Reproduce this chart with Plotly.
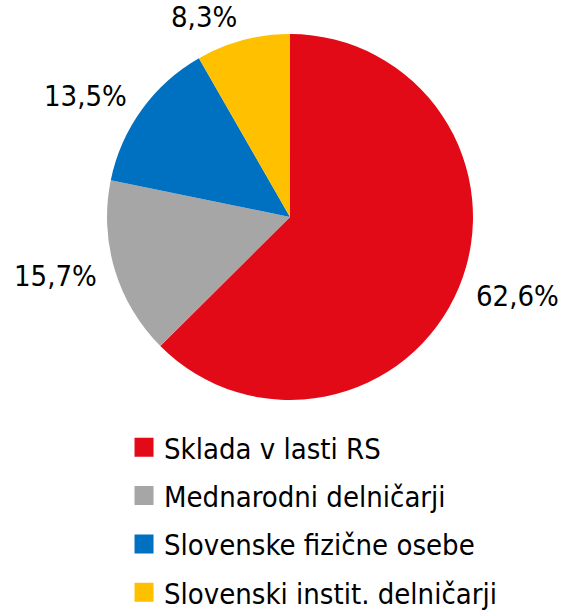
import math
import plotly.graph_objects as go

categories = ["Sklada v lasti RS", "Mednarodni delničarji", "Slovenske fizične osebe", "Slovenski instit. delničarji"]
values = [62.6, 15.7, 13.5, 8.3]
colors = ["#E30A17", "#A6A6A6", "#0070C0", "#FFC000"]

FONT = "DejaVu Sans Condensed, Liberation Sans Narrow, Open Sans, sans-serif"
W, H = 564, 612
dom_x = [0.1897, 0.8387]
dom_y = [0.3464, 0.9444]

fig = go.Figure()
fig.add_trace(go.Pie(
    labels=categories, values=values,
    marker=dict(colors=colors),
    sort=False, direction="clockwise", rotation=0,
    textinfo="none",
    showlegend=False, hoverinfo="skip",
    domain=dict(x=dom_x, y=dom_y),
))

# value labels just outside each slice, along the slice's mid-angle
cx = (dom_x[0] + dom_x[1]) / 2 * W
cy = (1 - (dom_y[0] + dom_y[1]) / 2) * H
r = min((dom_x[1] - dom_x[0]) * W, (dom_y[1] - dom_y[0]) * H) / 2
total = sum(values)
cum = 0.0
for v in values:
    mid = (cum + v / 2) / total * 2 * math.pi
    cum += v
    dx, dy = math.sin(mid), -math.cos(mid)
    px = cx + (r + 16) * dx
    py = cy + (r + 16) * dy + 8 * dy
    fig.add_annotation(
        x=px / W, y=1 - py / H, xref="paper", yref="paper",
        text=f"{v:.1f}".replace(".", ",") + "%", showarrow=False,
        xanchor="left" if dx > 0 else "right",
        yanchor="middle",
        font=dict(size=29, color="black", family=FONT),
    )

for i, (c, col) in enumerate(zip(categories, colors)):
    fig.add_trace(go.Scatter(
        x=[None], y=[None], mode="markers", name=c,
        marker=dict(symbol="square", size=16, color=col, line=dict(width=3, color=col)),
        legendgroup=f"g{i}", showlegend=True,
    ))

fig.update_layout(
    width=W, height=H,
    margin=dict(l=0, r=0, t=0, b=0, autoexpand=False),
    paper_bgcolor="white", plot_bgcolor="white",
    xaxis=dict(visible=False), yaxis=dict(visible=False),
    showlegend=True,
    legend=dict(
        x=0.2199, xanchor="left", y=0.3105, yanchor="top",
        font=dict(size=29, color="black", family=FONT),
        tracegroupgap=7.6, bgcolor="rgba(0,0,0,0)",
        traceorder="grouped", maxheight=1000,
    ),
)
fig.write_html("out.html")
